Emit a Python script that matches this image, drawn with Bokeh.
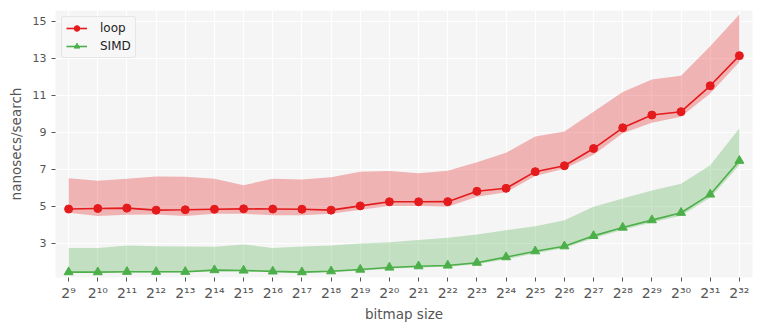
from bokeh.plotting import figure
from bokeh.models import FixedTicker, Legend, LegendItem, Range1d
from bokeh.embed import file_html
from bokeh.resources import INLINE

# ---- data ----
exponents = list(range(9, 33))
tick_labels = ["2⁹", "2¹⁰", "2¹¹", "2¹²", "2¹³", "2¹⁴", "2¹⁵", "2¹⁶", "2¹⁷", "2¹⁸",
               "2¹⁹", "2²⁰", "2²¹", "2²²", "2²³", "2²⁴", "2²⁵", "2²⁶", "2²⁷", "2²⁸",
               "2²⁹", "2³⁰", "2³¹", "2³²"]

loop_mid = [4.86, 4.89, 4.91, 4.80, 4.82, 4.85, 4.87, 4.86, 4.85, 4.80, 5.03, 5.25,
            5.25, 5.26, 5.82, 5.98, 6.88, 7.20, 8.13, 9.25, 9.94, 10.12, 11.52, 13.15]
loop_hi = [6.53, 6.39, 6.50, 6.62, 6.60, 6.50, 6.15, 6.50, 6.46, 6.58, 6.88, 6.91,
           6.80, 6.93, 7.39, 7.90, 8.78, 9.05, 10.12, 11.18, 11.86, 12.06, 13.66, 15.38]
loop_lo = [4.66, 4.48, 4.55, 4.57, 4.48, 4.60, 4.60, 4.53, 4.53, 4.60, 4.82, 5.02,
           5.02, 4.98, 5.52, 5.77, 6.64, 7.04, 7.79, 8.95, 9.52, 9.85, 11.11, 12.80]

simd_mid = [1.45, 1.45, 1.47, 1.47, 1.47, 1.56, 1.54, 1.49, 1.45, 1.50, 1.59, 1.70,
            1.77, 1.81, 1.96, 2.26, 2.58, 2.85, 3.41, 3.86, 4.26, 4.66, 5.65, 7.47]
simd_hi = [2.76, 2.76, 2.89, 2.85, 2.84, 2.82, 2.95, 2.76, 2.84, 2.89, 3.00, 3.07,
           3.18, 3.31, 3.49, 3.72, 3.93, 4.26, 4.98, 5.43, 5.86, 6.23, 7.23, 9.23]
simd_lo = [1.42, 1.42, 1.43, 1.43, 1.43, 1.50, 1.50, 1.45, 1.42, 1.46, 1.53, 1.63,
           1.70, 1.74, 1.87, 2.14, 2.47, 2.75, 3.28, 3.74, 4.13, 4.50, 5.47, 7.22]

y_ticks = [3, 5, 7, 9, 11, 13, 15]

RED = "#e41a1c"
GREEN = "#4daf4a"
FONT = "DejaVu Sans"

p = figure(frame_width=697, frame_height=267, output_backend="svg", toolbar_location=None,
           x_range=Range1d(8.55, 32.45), y_range=Range1d(1.16, 15.59),
           min_border_left=55, min_border_right=3, min_border_top=10, min_border_bottom=5)

p.background_fill_color = "#f5f5f5"
p.border_fill_color = "white"
p.outline_line_color = None

p.varea(x=exponents, y1=loop_lo, y2=loop_hi, fill_color=RED, fill_alpha=0.3)
p.varea(x=exponents, y1=simd_lo, y2=simd_hi, fill_color=GREEN, fill_alpha=0.3)

l1 = p.line(exponents, loop_mid, line_color=RED, line_width=1.6)
s1 = p.scatter(exponents, loop_mid, marker="circle", size=8, fill_color=RED, line_color=RED)
l2 = p.line(exponents, simd_mid, line_color=GREEN, line_width=1.6)
s2 = p.scatter(exponents, simd_mid, marker="triangle", size=9, fill_color=GREEN, line_color=GREEN)

# axes
p.xaxis.ticker = FixedTicker(ticks=exponents)
p.xaxis.major_label_overrides = {e: t for e, t in zip(exponents, tick_labels)}
p.yaxis.ticker = FixedTicker(ticks=y_ticks)
for ax in (p.xaxis, p.yaxis):
    ax.axis_line_color = None
    ax.major_tick_line_color = "#555555"
    ax.major_tick_out = 4
    ax.major_tick_in = 0
    ax.minor_tick_line_color = None
    ax.major_label_text_color = "#555555"
    ax.major_label_text_font = FONT
    ax.axis_label_text_color = "#555555"
    ax.axis_label_text_font = FONT
    ax.axis_label_text_font_style = "normal"
    ax.axis_label_text_font_size = "13.5px"
p.xaxis.major_label_text_font_size = "14px"
p.yaxis.major_label_text_font_size = "11px"
p.xaxis.major_label_standoff = 3
p.yaxis.major_label_standoff = 5
p.xaxis.axis_label = "bitmap size"
p.yaxis.axis_label = "nanosecs/search"
p.xaxis.axis_label_standoff = 2
p.yaxis.axis_label_standoff = 6

p.xgrid.ticker = FixedTicker(ticks=exponents)
p.ygrid.ticker = FixedTicker(ticks=y_ticks)
p.grid.grid_line_color = "white"
p.grid.grid_line_width = 1.2

legend = Legend(items=[LegendItem(label="loop", renderers=[l1, s1]),
                       LegendItem(label="SIMD", renderers=[l2, s2])],
                location="top_left")
legend.margin = 6
legend.padding = 4
legend.spacing = 4
legend.glyph_width = 21
legend.glyph_height = 14
legend.label_standoff = 13
legend.label_text_font = FONT
legend.label_text_font_size = "12px"
legend.label_text_color = "#222222"
legend.background_fill_color = "#f7f7f7"
legend.background_fill_alpha = 1.0
legend.border_line_color = "#d5d5d5"
legend.border_radius = 3
p.add_layout(legend)

open("out.html", "w").write(file_html(p, INLINE))
